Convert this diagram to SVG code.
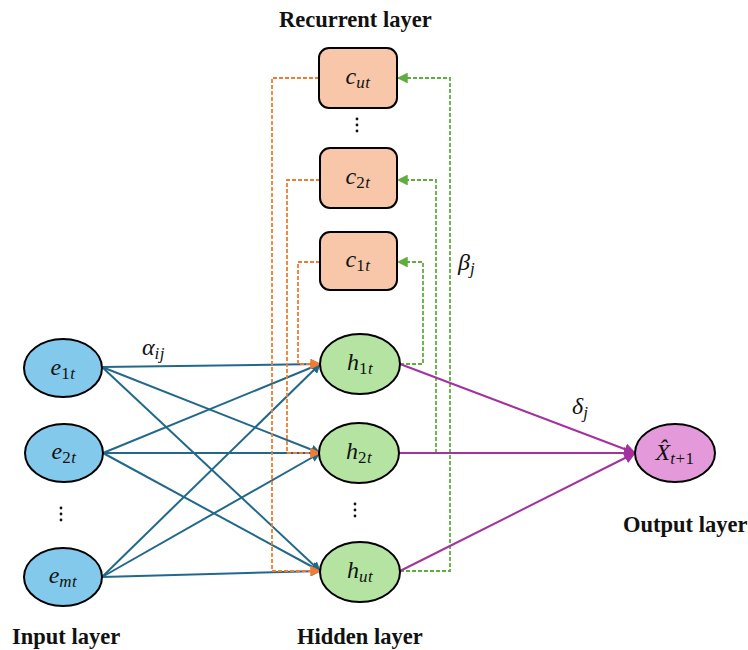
<svg xmlns="http://www.w3.org/2000/svg" width="748" height="650" viewBox="0 0 748 650">
<defs>
<style>
.in{fill:#82c9eb;stroke:#000;stroke-width:2}
.hid{fill:#b5e4a2;stroke:#000;stroke-width:2}
.rec{fill:#f8c6a8;stroke:#000;stroke-width:2}
.out{fill:#e49ada;stroke:#000;stroke-width:2}
.blue{stroke:#21688a;stroke-width:2;fill:none;marker-end:url(#ab)}
.pur{stroke:#a5309f;stroke-width:2;fill:none;marker-end:url(#ap)}
.or{stroke:#ee7d31;stroke-width:1.8;fill:none;stroke-dasharray:4 2;marker-end:url(#ao)}
.gr{stroke:#5eae3c;stroke-width:1.8;fill:none;stroke-dasharray:4 2;marker-end:url(#ag)}
.m{font-family:'Liberation Serif','DejaVu Serif',serif;font-style:italic;font-size:24px;fill:#111}
.s{font-size:17px;letter-spacing:0.5px}
.u{font-style:normal}
.lab{font-family:'Liberation Serif','Times New Roman',serif;font-weight:bold;font-size:22.5px;fill:#111}
.dot{fill:#111}
</style>
<marker id="ab" viewBox="0 0 10 10" refX="9" refY="5" markerWidth="5" markerHeight="5" orient="auto" markerUnits="strokeWidth"><path d="M0,0L10,5L0,10z" fill="#21688a"/></marker>
<marker id="ap" viewBox="0 0 10 10" refX="9" refY="5" markerWidth="6" markerHeight="6" orient="auto" markerUnits="strokeWidth"><path d="M0,0L10,5L0,10z" fill="#a5309f"/></marker>
<marker id="ao" viewBox="0 0 10 10" refX="9" refY="5" markerWidth="6" markerHeight="6" orient="auto" markerUnits="strokeWidth"><path d="M0,0L10,5L0,10z" fill="#ee7d31"/></marker>
<marker id="ag" viewBox="0 0 10 10" refX="9" refY="5" markerWidth="6" markerHeight="6" orient="auto" markerUnits="strokeWidth"><path d="M0,0L10,5L0,10z" fill="#5eae3c"/></marker>
</defs>
<rect width="748" height="650" fill="#fff"/>
<g id="connectors">
<path class="blue" d="M102,367 L320,364"/>
<path class="blue" d="M102,367 L320,453"/>
<path class="blue" d="M102,367 L320,571"/>
<path class="blue" d="M103,453 L320,364"/>
<path class="blue" d="M103,453 L320,453"/>
<path class="blue" d="M103,453 L320,571"/>
<path class="blue" d="M102,577 L320,364"/>
<path class="blue" d="M102,577 L320,453"/>
<path class="blue" d="M102,577 L320,571"/>
<path class="or" d="M319,78 H272 V571 H320"/>
<path class="or" d="M320,180 H287 V453 H320"/>
<path class="or" d="M320,262 H298 V364 H320"/>
<path class="gr" d="M400,364 H423 V262 H398"/>
<path class="gr" d="M436,453 V180 H398"/>
<path class="gr" d="M400,571 H450 V78 H398"/>
<path class="pur" d="M400,364 L635,453"/>
<path class="pur" d="M399,453 L635,453"/>
<path class="pur" d="M400,571 L635,453"/>
</g>
<g id="e1t"><ellipse class="in" cx="63" cy="368" rx="39" ry="29"/><text class="m" x="63" y="375" text-anchor="middle">e<tspan class="s u" dy="4">1</tspan><tspan class="s">t</tspan></text></g>
<g id="e2t"><ellipse class="in" cx="64" cy="453" rx="39" ry="29"/><text class="m" x="64" y="459" text-anchor="middle">e<tspan class="s u" dy="4">2</tspan><tspan class="s">t</tspan></text></g>
<g id="emt"><ellipse class="in" cx="63" cy="577" rx="39" ry="29"/><text class="m" x="63" y="583" text-anchor="middle">e<tspan class="s" dy="4">mt</tspan></text></g>
<g id="edots"><circle class="dot" cx="61" cy="508" r="1.4"/><circle class="dot" cx="61" cy="514" r="1.4"/><circle class="dot" cx="61" cy="520" r="1.4"/></g>
<g id="h1t"><ellipse class="hid" cx="360" cy="364" rx="40" ry="30"/><text class="m" x="360" y="370" text-anchor="middle">h<tspan class="s u" dy="4">1</tspan><tspan class="s">t</tspan></text></g>
<g id="h2t"><ellipse class="hid" cx="359" cy="453" rx="40" ry="30"/><text class="m" x="359" y="459" text-anchor="middle">h<tspan class="s u" dy="4">2</tspan><tspan class="s">t</tspan></text></g>
<g id="hut"><ellipse class="hid" cx="360" cy="572" rx="40" ry="30"/><text class="m" x="360" y="578" text-anchor="middle">h<tspan class="s" dy="4">ut</tspan></text></g>
<g id="hdots"><circle class="dot" cx="355" cy="504" r="1.4"/><circle class="dot" cx="355" cy="510" r="1.4"/><circle class="dot" cx="355" cy="516" r="1.4"/></g>
<g id="cut"><rect class="rec" x="319" y="48" width="78" height="60" rx="10"/><text class="m" x="358" y="84" text-anchor="middle">c<tspan class="s" dy="4">ut</tspan></text></g>
<g id="cdots"><circle class="dot" cx="357" cy="119" r="1.4"/><circle class="dot" cx="357" cy="125" r="1.4"/><circle class="dot" cx="357" cy="131" r="1.4"/></g>
<g id="c2t"><rect class="rec" x="320" y="148" width="77" height="60" rx="10"/><text class="m" x="358" y="184" text-anchor="middle">c<tspan class="s u" dy="4">2</tspan><tspan class="s">t</tspan></text></g>
<g id="c1t"><rect class="rec" x="320" y="232" width="77" height="58" rx="10"/><text class="m" x="358" y="267" text-anchor="middle">c<tspan class="s u" dy="4">1</tspan><tspan class="s">t</tspan></text></g>
<g id="out"><ellipse class="out" cx="675" cy="453" rx="40" ry="29"/><text class="m" x="675" y="460" text-anchor="middle">X&#x302;<tspan class="s" dy="4">t</tspan><tspan class="s u">+1</tspan></text></g>
<g id="labels">
<text class="m" x="142" y="355">α<tspan class="s" dy="4">ij</tspan></text>
<text class="m" x="458" y="270">β<tspan class="s" dy="4">j</tspan></text>
<text class="m" x="572" y="414">δ<tspan class="s" dy="4">j</tspan></text>
<text class="lab" x="279" y="27">Recurrent layer</text>
<text class="lab" x="12" y="644">Input layer</text>
<text class="lab" x="297" y="644">Hidden layer</text>
<text class="lab" x="623" y="532">Output layer</text>
</g>
</svg>
